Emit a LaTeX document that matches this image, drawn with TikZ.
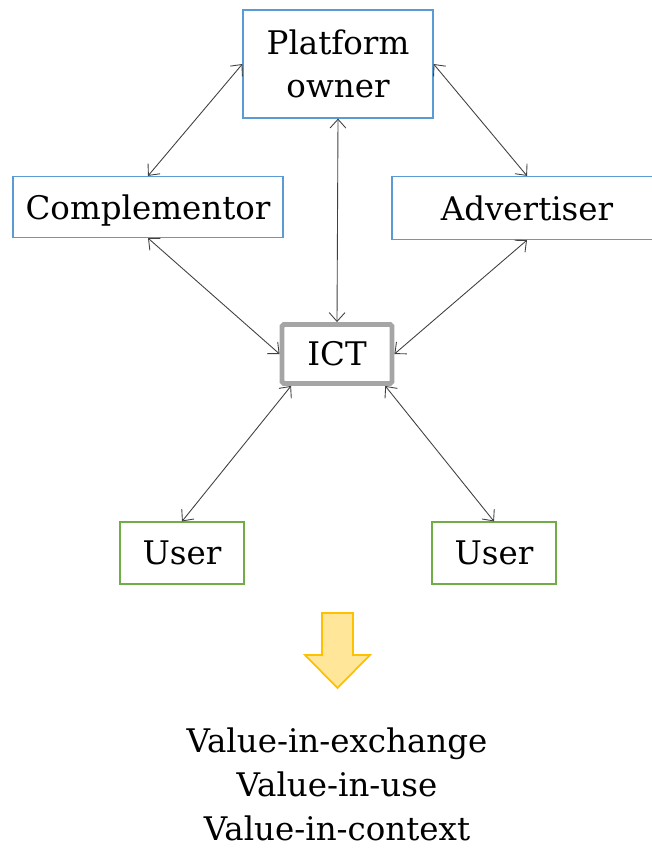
\documentclass[tikz,border=0pt]{standalone}
\usepackage{fontspec}
\setmainfont{DejaVu Serif}
\usetikzlibrary{arrows.meta,calc}

\definecolor{boxblue}{HTML}{5B9BD5}
\definecolor{boxgreen}{HTML}{70AD47}
\definecolor{ictgray}{HTML}{A5A5A5}
\definecolor{arrowfill}{HTML}{FFE699}
\definecolor{arrowline}{HTML}{FFC000}
\definecolor{linkgray}{HTML}{404040}

\tikzset{
  actor/.style={draw=boxblue, line width=0.7pt, fill=white, inner sep=0pt, align=center},
  userbox/.style={draw=boxgreen, line width=0.7pt, fill=white, inner sep=0pt,
    minimum width=2.48cm, minimum height=1.24cm},
  link/.style={draw=linkgray, line width=0.5pt, {Straight Barb[length=5pt,width=9pt]}-{Straight Barb[length=5pt,width=9pt]}}
}

\begin{document}
\begin{tikzpicture}[x=0.02cm, y=-0.02cm, font=\fontsize{18.5}{24.5}\selectfont]
  \useasboundingbox (0,0) rectangle (652,848);
  % actors
  \node[actor, minimum width=3.8cm, minimum height=2.16cm] (owner) at (338,64) {Platform\\owner};
  \node[actor, minimum width=5.4cm, minimum height=1.22cm, text depth=0pt] (compl) at (148,207) {Complementor};
  \node[actor, minimum width=5.4cm, minimum height=1.26cm] (adv) at (527,208) {Advertiser};
  \node[draw=ictgray, line width=2.8pt, fill=white, rounded corners=1pt, inner sep=0pt,
    minimum width=2.2cm, minimum height=1.18cm] (ict) at (337,354) {ICT};
  \node[userbox] (userl) at (182,553) {User};
  \node[userbox] (userr) at (494,553) {User};
  % links
  \draw[link] (owner.west) -- (compl.north);
  \draw[link] (owner.east) -- (adv.north);
  \draw[link] (owner.south) -- (ict.north);
  \draw[link] (compl.south) -- (ict.west);
  \draw[link] (adv.south) -- (ict.east);
  \draw[link] ($(ict.south west)!0.1!(ict.south east)$) -- (userl.north);
  \draw[link] ($(ict.south west)!0.92!(ict.south east)$) -- (userr.north);
  % result arrow
  \draw[draw=arrowline, fill=arrowfill, line width=1pt, line join=miter]
    (322,613) -- (353,613) -- (353,655) -- (370,655) -- (337.5,688)
    -- (305,655) -- (322,655) -- cycle;
  \node[align=center, font=\fontsize{18.5}{25}\selectfont] (values) at (337,784)
    {Value-in-exchange\\Value-in-use\\Value-in-context};
\end{tikzpicture}
\end{document}
